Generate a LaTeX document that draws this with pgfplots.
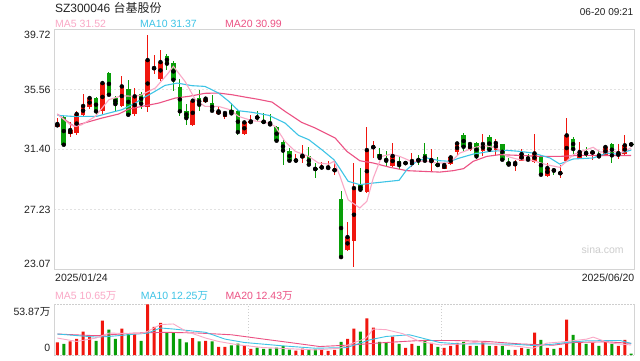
\documentclass[border=0pt]{standalone}
\usepackage{pgfplots}
\pgfplotsset{compat=1.18}
\usepackage{pgfplotstable}
\usepackage{fontspec}
\setmainfont{Liberation Sans}
\newfontfamily\cjk{Noto Sans CJK SC}
\definecolor{cred}{RGB}{240,22,14}
\definecolor{cgreen}{RGB}{8,158,8}
\definecolor{ma5c}{RGB}{250,168,198}
\definecolor{ma10c}{RGB}{62,196,230}
\definecolor{ma20c}{RGB}{236,82,132}
\definecolor{gridc}{RGB}{226,226,226}
\definecolor{borderc}{RGB}{212,212,212}
\definecolor{txt}{RGB}{34,34,34}
\definecolor{wm}{RGB}{205,205,205}

% up (red) candles: index open high low close
\pgfplotstableread{
i o h l c
0 32.99 33.59 32.95 33.18
2 32.48 33.29 32.25 32.76
3 32.55 34.06 32.44 33.87
4 33.78 35.26 33.73 34.43
5 34.36 35.14 34.22 34.98
7 34.10 36.14 33.87 36.02
10 34.45 36.49 34.33 35.79
12 33.89 35.68 33.71 35.10
14 34.36 39.33 33.99 37.62
15 37.04 37.94 36.67 37.06
16 36.32 38.31 36.14 37.48
21 33.11 34.87 33.06 34.80
23 34.70 35.05 34.63 34.94
25 33.87 34.33 33.78 34.06
26 33.69 34.01 33.55 33.94
29 32.48 33.36 32.39 33.29
30 33.27 33.78 33.27 33.36
37 30.63 31.09 30.63 30.65
38 30.86 31.70 30.47 30.98
41 30.15 30.52 30.12 30.17
42 30.08 30.59 30.08 30.17
43 29.96 30.59 29.61 29.98
45 24.45 26.37 24.38 25.33
46 25.03 30.47 23.25 28.73
48 28.43 32.97 28.39 31.37
49 31.55 31.97 30.82 31.58
52 30.26 31.88 30.17 30.96
54 30.45 30.63 30.31 30.47
55 30.31 31.16 30.17 30.61
58 30.52 31.44 29.84 30.68
60 30.08 30.40 30.08 30.33
61 30.40 31.05 30.36 30.86
62 31.21 31.90 31.05 31.83
64 31.37 31.86 31.28 31.79
66 31.28 32.48 30.98 31.79
68 31.40 32.14 31.05 31.86
71 30.29 30.70 29.94 30.47
72 30.63 31.46 30.59 31.09
74 30.54 32.48 30.47 31.14
76 29.59 30.47 29.52 30.12
78 29.75 30.36 29.43 29.77
79 30.63 33.59 30.63 32.39
81 30.82 31.90 30.77 31.23
83 31.19 31.40 30.70 31.21
85 31.00 31.74 30.93 31.58
87 30.93 31.79 30.77 31.16
88 31.12 32.39 30.93 31.70
}\up

% down (green) candles
\pgfplotstableread{
i o h l c
1 33.64 33.78 31.72 31.74
6 34.98 35.03 33.78 34.06
8 36.72 36.79 35.21 35.21
9 34.98 35.14 33.99 34.56
11 35.61 36.25 33.78 33.82
13 35.26 35.37 34.22 34.59
17 37.90 38.06 36.95 37.37
18 37.41 37.53 35.49 36.25
19 35.72 36.32 33.76 34.06
20 34.10 34.56 33.13 33.59
22 34.98 35.56 34.10 34.52
24 34.63 35.17 34.06 34.10
27 34.15 34.63 33.87 33.92
28 34.06 34.13 32.44 32.62
31 33.66 34.10 33.41 33.62
32 33.36 33.94 33.25 33.32
33 33.32 33.87 33.13 33.15
34 32.99 33.06 31.97 32.02
35 31.90 32.09 30.31 31.33
36 31.28 31.51 30.54 30.63
39 30.93 31.56 30.31 30.36
40 30.08 30.47 29.43 30.05
44 27.97 28.55 23.94 23.94
47 28.92 30.12 28.46 28.62
50 31.09 31.51 30.70 30.82
51 30.75 31.33 30.29 30.63
53 30.61 30.98 30.05 30.33
56 30.75 31.05 30.36 30.63
57 31.09 31.86 30.59 30.63
59 30.35 30.86 30.24 30.33
63 32.39 32.55 31.21 31.60
65 31.86 31.90 30.77 30.93
67 32.25 32.39 31.35 31.40
69 31.79 31.79 30.63 30.70
70 30.54 30.82 30.31 30.36
73 30.89 31.09 30.59 30.70
75 30.98 31.05 29.66 29.66
77 30.00 30.12 29.66 29.94
80 32.14 32.27 31.05 31.44
82 31.18 31.56 30.86 31.14
84 31.09 31.40 30.86 30.93
86 31.79 31.86 30.47 31.00
89 31.77 31.77 31.76 31.76
}\down

% volumes (10k shares)
\pgfplotstableread{
i v
0 13.3
2 14.4
3 17.2
4 24.8
5 19.7
7 36.6
10 28.0
12 23.3
14 53.87
15 29.8
16 34.1
21 18.0
23 15.1
25 8.6
26 8.6
29 9.7
30 6.5
37 4.7
38 6.8
41 5.4
42 4.3
43 5.4
45 17.2
46 28.0
48 38.8
49 29.1
52 19.4
54 7.5
55 11.8
58 12.9
60 7.5
61 9.7
62 12.9
64 9.7
66 14.0
68 9.7
71 5.4
72 7.5
74 23.7
76 7.5
78 7.5
79 37.7
81 14.0
83 12.9
85 14.0
87 9.7
88 16.2
}\volup

\pgfplotstableread{
i v
1 11.8
6 15.1
8 26.9
9 17.2
11 22.3
13 15.1
17 23.3
18 23.3
19 17.2
20 13.3
22 14.4
24 14.4
27 10.1
28 12.2
31 7.9
32 6.5
33 6.8
34 7.9
35 9.7
36 5.7
39 5.7
40 6.1
44 14.0
47 24.8
50 14.0
51 12.9
53 11.8
56 9.7
57 16.2
59 8.6
63 14.0
65 9.7
67 9.7
69 9.7
70 5.4
73 6.5
75 16.2
77 6.5
80 21.5
82 11.8
84 9.7
86 11.8
89 1.5
}\voldown

\begin{document}
\begin{tikzpicture}[x=1pt,y=1pt]
\fill[white] (0,0) rectangle (640,360);

% ---------------- price panel ----------------
\begin{axis}[
  at={(54.3pt,90.4pt)}, anchor=south west,
  scale only axis, width=579.7pt, height=239.8pt,
  xmin=-0.47, xmax=89.43, ymin=23.07, ymax=39.72,
  axis line style={draw=borderc, line width=0.8pt},
  xtick=\empty, ytick={27.23,31.40,35.56},
  yticklabels={}, xticklabels={}, major tick length=0pt,
  ymajorgrids,
  grid style={draw=gridc, line width=1.3pt, dash pattern=on 2pt off 2pt},
]
% wicks
\addplot[only marks, mark=none, forget plot,
  error bars/.cd, y dir=both, y explicit, error mark=none,
  error bar style={draw=cred, line width=1pt}]
  table[x=i, y=c, y error plus expr=\thisrow{h}-\thisrow{c}, y error minus expr=\thisrow{c}-\thisrow{l}] {\up};
\addplot[only marks, mark=none, forget plot,
  error bars/.cd, y dir=both, y explicit, error mark=none,
  error bar style={draw=cgreen, line width=1pt}]
  table[x=i, y=c, y error plus expr=\thisrow{h}-\thisrow{c}, y error minus expr=\thisrow{c}-\thisrow{l}] {\down};
% bodies
\addplot[only marks, mark=none, forget plot,
  error bars/.cd, y dir=both, y explicit, error mark=none,
  error bar style={draw=cred, line width=4.6pt}]
  table[x=i, y expr=(\thisrow{o}+\thisrow{c})/2, y error expr={max(abs(\thisrow{c}-\thisrow{o})/2,0.035)}] {\up};
\addplot[only marks, mark=none, forget plot,
  error bars/.cd, y dir=both, y explicit, error mark=none,
  error bar style={draw=cgreen, line width=4.6pt}]
  table[x=i, y expr=(\thisrow{o}+\thisrow{c})/2, y error expr={max(abs(\thisrow{c}-\thisrow{o})/2,0.035)}] {\down};
% moving averages
\addplot[ma20c, line width=1.1pt, no marks] coordinates {
(0,33.87) (2.5,33.05) (3.8,33.20) (6.9,33.59) (9.5,33.87) (11.1,34.22) (13.1,34.40) (15.7,34.63) (18.3,34.98) (20.4,35.10) (22.9,35.31) (25,35.33) (27.1,35.21) (29.1,35.05) (31.2,34.89) (33.3,34.70) (35.3,34.06) (37.9,33.29) (40,32.90) (43.1,32.20) (44.9,31.28) (46.9,30.63) (49,30.47) (51.6,30.17) (54.2,29.94) (59.3,29.84) (61.4,29.94) (63,30.08) (64.5,30.59) (66.6,30.93) (68.6,31.05) (71.7,31.00) (74.8,30.93) (77.9,30.93) (81,31.00) (89,30.99)};
\addplot[ma10c, line width=1.1pt, no marks] coordinates {
(0,33.78) (2.3,33.71) (6.1,33.71) (8,33.94) (10,34.17) (12.1,34.63) (13.1,34.94) (14.7,35.33) (16.7,35.86) (18.6,36.02) (20.9,35.84) (22.9,35.79) (25,35.33) (26.6,34.75) (28.1,34.10) (30.2,33.99) (32.8,33.78) (35.3,33.25) (37.4,32.39) (39,32.09) (41,31.40) (42.9,30.70) (43.8,30.10) (45.1,29.20) (46.9,28.97) (49,29.08) (53,29.27) (54.2,30.01) (55.7,30.59) (57.3,30.82) (59.3,30.63) (60.9,30.59) (62.4,30.82) (64.5,31.09) (67.1,31.28) (69.7,31.35) (71.7,31.28) (73.8,31.16) (76.4,30.82) (77.9,30.40) (80,30.75) (83.1,30.82) (85.2,31.16) (86.7,31.09) (89,31.37)};
\addplot[ma5c, line width=1.1pt, no marks] coordinates {
(0,33.87) (2,33.13) (2.8,33.01) (3.8,33.13) (5.9,33.71) (8,34.87) (10,35.14) (12.1,35.10) (13.1,35.21) (15.2,35.68) (17,36.60) (18,37.18) (19.8,36.14) (21.4,34.87) (22.9,34.40) (25,34.40) (26.8,34.17) (28.1,33.71) (30.2,33.41) (32.2,33.32) (33.8,33.01) (35.3,31.97) (36.9,31.28) (39,30.93) (40.5,30.47) (42.1,30.40) (42.9,30.59) (43.8,29.60) (45.1,27.92) (46.9,27.35) (48,27.81) (49,29.43) (50.3,30.93) (51.8,31.09) (53.1,30.93) (54.9,30.59) (57.3,30.59) (58.8,30.47) (60.4,30.47) (61.4,30.70) (62.4,31.16) (64.5,31.51) (66.1,31.70) (68.1,31.51) (69.7,30.93) (71.7,30.70) (73.8,30.63) (75.9,30.35) (77.9,30.17) (79,30.59) (80,31.05) (81.6,31.33) (83.1,31.56) (84.2,31.23) (86.2,31.28) (87.3,31.16) (89,31.52)};
\end{axis}

% ---------------- volume panel ----------------
\begin{axis}[
  at={(54.3pt,5pt)}, anchor=south west,
  scale only axis, width=579.7pt, height=50.7pt,
  xmin=-0.47, xmax=89.43, ymin=0, ymax=53.87,
  axis line style={draw=none},
  xtick={29.6,59.5}, ytick={0,53.87},
  xticklabels={}, yticklabels={}, major tick length=0pt,
  xmajorgrids, ymajorgrids,
  grid style={draw=gridc!80!gray, line width=1pt, dash pattern=on 1.5pt off 1.5pt},
  clip=false,
]
\draw[borderc, line width=0.8pt] (rel axis cs:0,0) -- (rel axis cs:0,1);
\draw[borderc, line width=0.8pt] (rel axis cs:1,0) -- (rel axis cs:1,1);
\addplot[ybar, bar width=3pt, bar shift=0pt, fill=cred, draw=none] table[x=i, y=v] {\volup};
\addplot[ybar, bar width=3pt, bar shift=0pt, fill=cgreen, draw=none] table[x=i, y=v] {\voldown};
\addplot[ma20c, line width=0.9pt, no marks] coordinates {
(0,22.3) (6,20.5) (12,23.3) (17,24.1) (22,23.3) (27,21.5) (32,16.9) (36,13.3) (40.7,9.0) (45.9,10.8) (51,13.3) (56.2,15.4) (61.4,15.4) (66.6,14.4) (71.7,11.8) (76.9,10.4) (80,13.3) (85.2,14.0) (89,12.43)};
\addplot[ma10c, line width=0.9pt, no marks] coordinates {
(0,22.3) (6,19.0) (8,19.7) (14,23.3) (16,28.7) (18,27.6) (23,24.1) (26,16.9) (29,13.3) (35,9.7) (40,7.2) (44.9,7.9) (48.5,16.2) (51,19.7) (54.6,21.5) (57.2,16.9) (59.3,13.3) (62.4,11.8) (66.6,11.8) (70.7,11.5) (73.8,10.1) (76.9,11.5) (79,13.4) (82.1,15.1) (87.3,15.4) (89,12.25)};
\addplot[ma5c, line width=0.9pt, no marks] coordinates {
(0,18.0) (3,14.4) (6,18.0) (8,23.3) (13,22.6) (14,25.1) (16,32.3) (18,33.0) (20,25.1) (23,18.0) (25,14.4) (28,10.8) (32,7.9) (40,5.4) (43.8,7.2) (47.9,18.0) (49,27.6) (51,26.9) (53.6,22.6) (56.2,14.4) (59.3,10.8) (62.4,11.5) (65.6,14.0) (68.6,10.8) (71.7,9.0) (73.8,7.2) (75.9,12.6) (79,14.4) (82.1,16.9) (83.1,19.0) (85.7,12.6) (89,10.65)};
\end{axis}

% ---------------- texts ----------------
\node[anchor=base west, inner sep=0pt, text=txt, font=\fontsize{12}{14}\selectfont] at (54.8,347.7) {SZ300046 {\cjk 台基股份}};
\node[anchor=base east, inner sep=0pt, text=txt, font=\fontsize{10}{12}\selectfont] at (633.5,345) {06-20 09:21};
\begin{scope}[every node/.style={anchor=base west, inner sep=0pt, font=\fontsize{10.5}{12}\selectfont}]
\node[text=ma5c] at (55,332.7) {MA5 31.52};
\node[text=ma10c] at (140,332.7) {MA10 31.37};
\node[text=ma20c] at (225,332.7) {MA20 30.99};
\node[text=ma5c] at (55,60.5) {MA5 10.65{\cjk 万}};
\node[text=ma10c] at (140.7,60.5) {MA10 12.25{\cjk 万}};
\node[text=ma20c] at (225.3,60.5) {MA20 12.43{\cjk 万}};
\node[text=txt] at (55,78.3) {2025/01/24};
\end{scope}
\begin{scope}[every node/.style={anchor=base east, inner sep=0pt, text=txt, font=\fontsize{10.5}{12}\selectfont}]
\node at (50.7,321.5) {39.72};
\node at (50.7,267) {35.56};
\node at (50.7,207.5) {31.40};
\node at (50.7,147) {27.23};
\node at (50.7,93) {23.07};
\node at (634.5,78.3) {2025/06/20};
\node at (50.5,45) {53.87{\cjk 万}};
\node at (50.5,8.3) {0};
\end{scope}
\node[anchor=base west, inner sep=0pt, text=wm, font=\fontsize{10.5}{12}\selectfont] at (581.5,107) {sina.com};

\pgfresetboundingbox
\path[use as bounding box] (0,0) rectangle (640,360);
\end{tikzpicture}
\end{document}
